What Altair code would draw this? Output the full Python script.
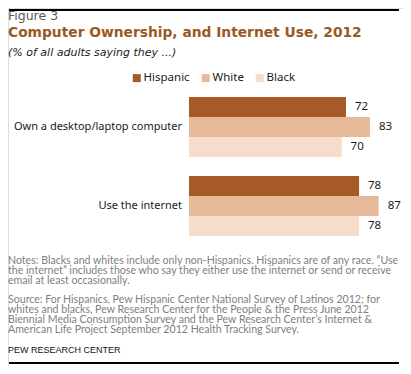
import altair as alt
import pandas as pd

categories = ["Own a desktop/laptop computer", "Use the internet"]
races = ["Hispanic", "White", "Black"]
hispanic = [72, 78]
white = [83, 87]
black = [70, 78]
colors = ["#A55A27", "#E6BA98", "#F5DCCB"]

rows = []
for i, c in enumerate(categories):
    for r, vals in zip(races, [hispanic, white, black]):
        rows.append({"category": c, "race": r, "value": vals[i]})
df = pd.DataFrame(rows)

notes = [
    "Notes: Blacks and whites include only non-Hispanics. Hispanics are of any race. \u201cUse",
    "the internet\u201d includes those who say they either use the internet or send or receive",
    "email at least occasionally.",
]
source = [
    "Source: For Hispanics, Pew Hispanic Center National Survey of Latinos 2012; for",
    "whites and blacks, Pew Research Center for the People & the Press June 2012",
    "Biennial Media Consumption Survey and the Pew Research Center\u2019s Internet &",
    "American Life Project September 2012 Health Tracking Survey.",
]

W, H = 395, 358
FONT = "Noto Sans"
TFONT = "DejaVu Sans"
NOTE_FONT = "Lato"

xscale = alt.Scale(domain=[0, 100], range=[181, 399])
yscale = alt.Scale(domain=categories, range=[89, 228], paddingInner=19 / 79, paddingOuter=0)
yoff = alt.Scale(domain=races, paddingInner=0, paddingOuter=0)

base = alt.Chart(df)

bars = base.mark_bar(size=20).encode(
    x=alt.X("value:Q", scale=xscale, axis=None),
    y=alt.Y("category:N", scale=yscale, axis=None),
    yOffset=alt.YOffset("race:N", scale=yoff, sort=races),
    color=alt.Color(
        "race:N",
        scale=alt.Scale(domain=races, range=colors),
        sort=races,
        legend=alt.Legend(
            orient="none",
            legendX=123,
            legendY=64,
            direction="horizontal",
            title=None,
            symbolType="square",
            symbolSize=64,
            symbolStrokeWidth=0,
            symbolOpacity=1,
            labelFont=FONT,
            labelFontSize=11.5,
            labelColor="#1a1a1a",
            labelOffset=1,
            columnPadding=10,
        ),
    ),
)

vals = base.mark_text(align="left", baseline="middle", dx=9, font=FONT, fontSize=11.5, color="#1a1a1a").encode(
    x=alt.X("value:Q", scale=xscale),
    y=alt.Y("category:N", scale=yscale),
    yOffset=alt.YOffset("race:N", scale=yoff, sort=races),
    text="value:Q",
)

cat_df = pd.DataFrame({"category": categories})
cats = alt.Chart(cat_df).mark_text(align="right", baseline="middle", font=FONT, fontSize=11, color="#1a1a1a").encode(
    x=alt.value(174),
    y=alt.Y("category:N", scale=yscale),
    text="category:N",
)

def label(txt, y, size, color="#000", weight="normal", style="normal", font=TFONT, x=0):
    return alt.Chart(pd.DataFrame({"t": [txt]})).mark_text(
        align="left", baseline="alphabetic", font=font, fontSize=size, color=color,
        fontWeight=weight, fontStyle=style,
    ).encode(x=alt.value(x), y=alt.value(y), text="t:N")

texts = [
    label("Figure 3", 12, 12.5, color="#595959"),
    label("Computer Ownership, and Internet Use, 2012", 29, 13.8, color="#9A5A1F", weight="bold"),
    label("(% of all adults saying they ...)", 48, 11, color="#1a1a1a", style="italic"),
]
ny = 256
for i, t in enumerate(notes):
    texts.append(label(t, ny + i * 10, 10.6, color="#808080", font=NOTE_FONT))
sy = 295
for i, t in enumerate(source):
    texts.append(label(t, sy + i * 10, 10.6, color="#808080", font=NOTE_FONT))
texts.append(label("PEW RESEARCH  CENTER", 345, 9, color="#111", font="Liberation Sans"))

# horizontal top and bottom rules, drawn in short segments
seg_edges = [1, 131, 261, 391]
rules = []
for yv, name in [(2, "top"), (355, "bottom")]:
    for k in range(len(seg_edges) - 1):
        rules.append(
            alt.Chart(pd.DataFrame({"t": [f"{name}{k}"]})).mark_rule(stroke="#000000", strokeWidth=2).encode(
                x=alt.value(seg_edges[k]), x2=alt.value(seg_edges[k + 1]), y=alt.value(yv)
            )
        )

chart = alt.layer(bars, vals, cats, *texts, *rules).properties(
    width=W, height=H, padding=0, autosize=alt.AutoSizeParams(type="none")
).configure_view(stroke=None).configure(background="#ffffff")

chart.save("out.html", embed_options={"renderer": "svg", "actions": False})
